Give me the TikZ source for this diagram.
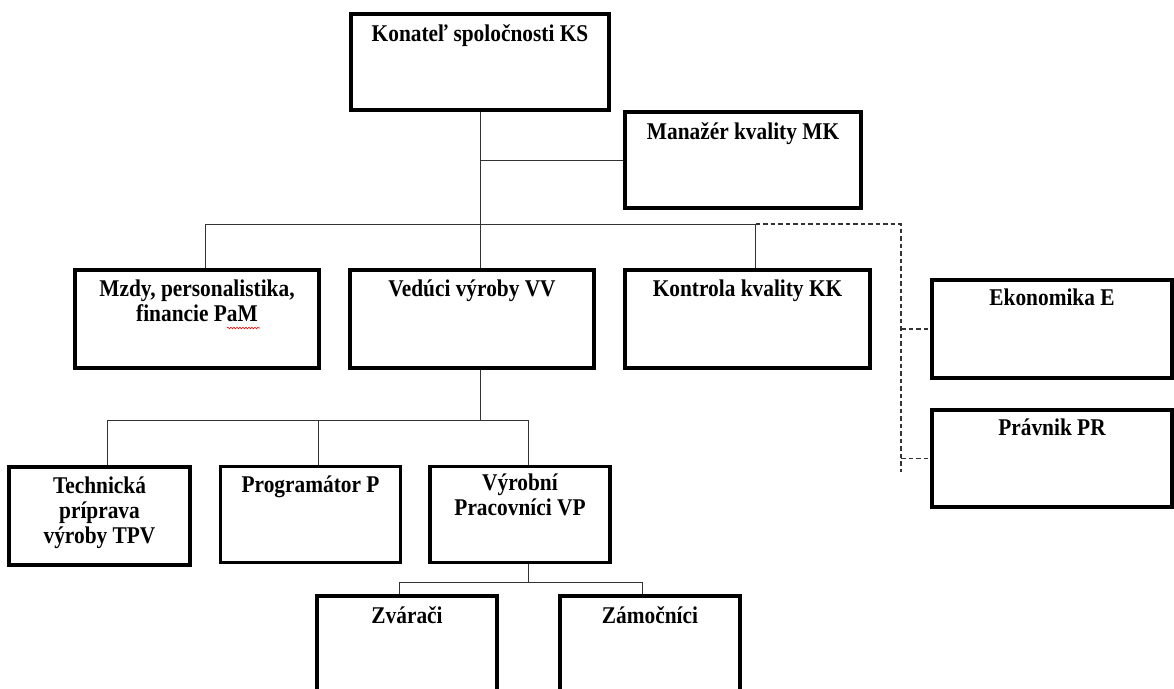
\documentclass[tikz,border=0pt]{standalone}
\usepackage{fontspec}
\setmainfont{Liberation Serif}[FakeStretch=0.89]
\usetikzlibrary{positioning,decorations.pathmorphing}

\begin{document}
\begin{tikzpicture}[x=1pt,y=-1pt,
  box/.style ={rectangle,draw=black,line width=3.5pt,minimum width=244pt,
               minimum height=98pt,inner sep=0pt},
  sbox/.style={box,minimum width=180pt,minimum height=96pt},
  txt/.style ={font=\fontsize{24}{25}\selectfont\bfseries,align=center,
               inner sep=0pt,anchor=base},
  ln/.style  ={line width=1pt,black!80},
  dln/.style ={ln,line width=1.1pt,dash pattern=on 4.5pt off 3pt},
]
\useasboundingbox (0,0) rectangle (1174,688);

% boxes
\node[box,minimum width=258pt,minimum height=96pt] at (480,62) (ks) {};
\node[box,minimum width=236pt,minimum height=96pt] at (743,160) (mk) {};

\node[box]  at (197,319)   (pam) {};
\node[box]  at (472,319)   (vv)  {};
\node[box,minimum width=245pt] at (747.5,319) (kk) {};
\node[box,minimum width=240pt] at (1052,329)   (e)   {};
\node[box,minimum width=240pt,minimum height=97pt] at (1052,458.5) (pr) {};

\node[sbox,minimum width=181pt,minimum height=98pt] at (99.5,516) (tpv) {};
\node[sbox] at (310.5,514.5) (p)   {};
\node[sbox] at (520,514.5)   (vp)  {};
\node[sbox,minimum height=104pt] at (407,648) (zv)  {};
\node[sbox,minimum height=104pt] at (650,648) (zam) {};

% texts (base = last line)
\node[txt] at ([yshift=-29pt]ks.north)  (ks-t)  {Konateľ spoločnosti KS};
\node[txt] at ([yshift=-29pt]mk.north)  (mk-t)  {Manažér kvality MK};
\node[txt] at ([yshift=-53pt]pam.north) (pam-t) {Mzdy, personalistika,\\financie PaM};
\node[txt] at ([yshift=-28pt]vv.north)  (vv-t)  {Vedúci výroby VV};
\node[txt] at ([yshift=-28pt]kk.north)  (kk-t)  {Kontrola kvality KK};
\node[txt] at ([yshift=-27pt]e.north)   (e-t)   {Ekonomika E};
\node[txt] at ([yshift=-27pt]pr.north)  (pr-t)  {Právnik PR};
\node[txt] at ([yshift=-78pt]tpv.north) (tpv-t) {Technická\\príprava\\výroby TPV};
\node[txt] at ([yshift=-28pt]p.north)   (p-t)   {Programátor P};
\node[txt] at ([yshift=-51pt]vp.north)  (vp-t)  {Výrobní\\Pracovníci VP};
\node[txt] at ([yshift=-29pt]zv.north)  (zv-t)  {Zvárači};
\node[txt] at ([yshift=-29pt]zam.north) (zam-t) {Zámočníci};

% spell-check squiggle under PaM
\draw[red,line width=0.6pt,decorate,
      decoration={snake,amplitude=0.8pt,segment length=3pt}] (227,328) -- (260,328);

% connectors
\coordinate (bus1) at (480,224);
\coordinate (pamt) at ([xshift=8pt]pam.north);
\coordinate (kkt)  at ([xshift=8pt]kk.north);
\draw[ln] (ks.south) -- (bus1 |- vv.north);
\draw[ln] (ks.south |- mk.west) -- (mk.west);
\draw[ln] (pamt) |- (kkt |- bus1) -- (kkt);

\coordinate (dtop) at (901,224);
\coordinate (dend) at (901,472);
\draw[dln] (kkt |- bus1) -- (dtop) -- (dend);
\draw[dln] (dtop |- e.west)  -- (e.west);
\draw[dln] (dtop |- pr.west) -- (pr.west);

\coordinate (tpvt) at ([xshift=8pt]tpv.north);
\coordinate (pt)   at ([xshift=8pt]p.north);
\coordinate (vpt)  at ([xshift=8pt]vp.north);
\draw[ln] (bus1 |- vv.south) -- ++(0,51) coordinate (bus2);
\draw[ln] (tpvt) |- (vpt |- bus2) -- (vpt);
\draw[ln] (pt) -- (pt |- bus2);

\coordinate (zvt)  at ([xshift=-8pt]zv.north);
\coordinate (zamt) at ([xshift=-8pt]zam.north);
\draw[ln] (vpt |- vp.south) -- ++(0,18) coordinate (bus3);
\draw[ln] (zvt) |- (bus3) -| (zamt);
\end{tikzpicture}
\end{document}
